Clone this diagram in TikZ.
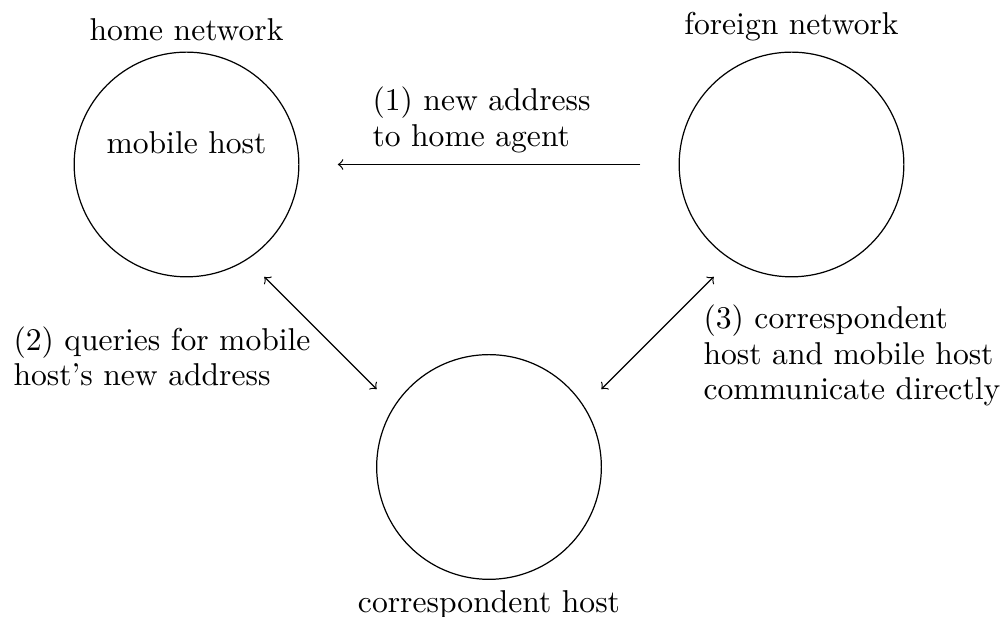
\documentclass[tikz,border=0pt]{standalone}
\usetikzlibrary{calc}
\begin{document}
\begin{tikzpicture}[
  font=\fontsize{10.4}{11.6}\selectfont,
  net/.style={draw, circle, minimum size=2.6cm, inner sep=0pt},
  lbl/.style={align=left, anchor=north west, inner sep=0pt},
  conn/.style={line width=0.4pt}
]
\useasboundingbox (-2.158,-5.235) rectangle (9.447,1.903);
\node[net, label=above:{home network}] (home) at (0,0) {};
\node[net, label=above:{foreign network}] (foreign) at (7,0) {};
\node[net, label=below:{correspondent host}] (corr) at (3.5,-3.5) {};
\node (mh) at (0,0.25) {mobile host};
\coordinate (h2) at ($(home.center)+(0.9,-1.3)$);
\coordinate (c2) at ($(corr.center)+(-1.3,0.9)$);
\coordinate (c3) at ($(corr.center)+(1.3,0.9)$);
\coordinate (f3) at ($(foreign.center)+(-0.9,-1.3)$);
\coordinate (f1) at ($(foreign.center)+(-1.75,0)$);
\coordinate (h1) at ($(home.center)+(1.75,0)$);
\draw[conn,->] (f1) -- (h1);
\draw[conn,<->] (h2) -- (c2);
\draw[conn,<->] (c3) -- (f3);
\node[lbl] (l1) at (2.146,0.90) {(1) new address\\to home agent};
\node[lbl] (l2) at (-2.008,-1.87) {(2) queries for mobile\\host's new address};
\node[lbl] (l3) at (5.976,-1.62) {(3) correspondent\\host and mobile host\\communicate directly};
\end{tikzpicture}
\end{document}
